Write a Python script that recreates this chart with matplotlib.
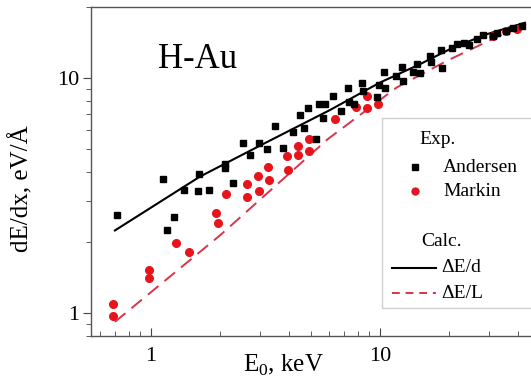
import numpy as np
import matplotlib
matplotlib.use("Agg")
import matplotlib.pyplot as plt
from matplotlib.lines import Line2D
from matplotlib.patches import Rectangle
from matplotlib.ticker import LogLocator, NullFormatter

plt.rcParams['font.family'] = ['Liberation Serif', 'DejaVu Serif']
plt.rcParams['mathtext.fontset'] = 'custom'
plt.rcParams['mathtext.rm'] = 'Liberation Serif'

# Andersen (exp.)
and_E = [0.710, 1.125, 1.178, 1.260, 1.398, 1.599, 1.620, 1.800, 2.104, 2.104,
         2.280, 2.530, 2.720, 2.971, 3.211, 3.479, 3.760, 4.170, 4.487, 4.681,
         4.834, 5.281, 5.443, 5.621, 5.752, 6.254, 6.737, 7.271, 7.344, 7.700,
         8.347, 8.457, 9.70, 9.93, 10.38, 10.51, 11.75, 12.44, 12.60, 14.00,
         14.46, 14.95, 16.62, 16.79, 18.47, 18.75, 20.56, 21.62, 23.27, 24.55,
         26.44, 28.25, 31.05, 32.33, 35.50, 38.20, 41.57]
and_S = [2.620, 3.707, 2.263, 2.559, 3.353, 3.305, 3.908, 3.353, 4.309, 4.156,
         3.591, 5.278, 4.718, 5.278, 4.988, 6.261, 5.027, 5.904, 6.968, 6.099,
         7.440, 5.500, 7.738, 6.737, 7.738, 8.389, 7.248, 9.096, 7.900, 7.738,
         9.552, 8.808, 8.311, 9.339, 10.62, 9.096, 10.20, 11.10, 9.712, 10.55,
         11.43, 10.53, 12.40, 11.71, 13.11, 11.06, 13.44, 13.89, 14.03, 13.80,
         14.59, 15.21, 15.07, 15.56, 15.82, 16.34, 16.61]

# Markin (exp.)
mar_E = [0.684, 0.684, 0.980, 0.980, 1.286, 1.470, 1.922, 1.967, 2.126, 2.617,
         2.617, 2.942, 2.971, 3.252, 3.276, 3.937, 3.966, 4.398, 4.398, 4.897,
         4.897, 6.362, 7.855, 8.80, 8.80, 9.77, 31.1, 35.7, 39.5]
mar_S = [1.099, 0.974, 1.532, 1.414, 1.980, 1.818, 2.661, 2.418, 3.209, 3.545,
         3.131, 3.843, 3.320, 4.169, 3.696, 4.650, 4.057, 5.117, 4.705, 5.488,
         4.872, 6.683, 7.484, 8.389, 7.463, 7.738, 15.07, 15.82, 16.09]

# calculations
d_E = [0.696, 1.637, 2.99, 6.05, 10.0, 14.95, 20.84, 29.24, 42.97]
d_S = [2.247, 3.806, 5.15, 7.30, 9.55, 11.43, 13.44, 15.32, 17.15]
L_E = [0.696, 2.001, 5.93, 11.83, 19.56, 40.87]
L_S = [0.919, 2.14, 5.50, 9.10, 11.80, 16.61]

red = '#e8141c'
dash_red = '#d8344a'

fig = plt.figure(figsize=(5.31, 3.86), dpi=100)
ax = fig.add_axes([0.1723, 0.1295, 0.8446, 0.8523])

ax.plot(d_E, d_S, color='black', lw=1.5, zorder=2)
ax.plot(L_E, L_S, color=dash_red, lw=1.4, dashes=(7, 4), zorder=2)
ax.plot(mar_E, mar_S, 'o', color=red, ms=5.5, ls='none', zorder=3)
ax.plot(and_E, and_S, 's', color='black', ms=5, ls='none', zorder=4)

ax.set_xscale('log')
ax.set_yscale('log')
ax.set_xlim(0.55, 50)
ax.set_ylim(0.8, 20)

ax.set_xticks([1, 10])
ax.set_xticklabels(['1', '10'])
ax.set_yticks([1, 10])
ax.set_yticklabels(['1', '10'])
ax.xaxis.set_minor_locator(LogLocator(subs=np.arange(2, 10)))
ax.yaxis.set_minor_locator(LogLocator(subs=np.arange(2, 10)))
ax.xaxis.set_minor_formatter(NullFormatter())
ax.yaxis.set_minor_formatter(NullFormatter())
ax.tick_params(axis='x', which='both', direction='in', labelsize=16, pad=8)
ax.tick_params(axis='y', which='both', direction='out', labelsize=16, pad=3)
ax.tick_params(which='major', length=6, color='#444444')
ax.tick_params(which='minor', length=3.5, color='#444444')
for s in ax.spines.values():
    s.set_color('#555555')
    s.set_linewidth(1.0)

ax.set_xlabel(r'E$_\mathregular{0}$, keV', fontsize=18)
ax.set_ylabel('dE/dx, eV/Å', fontsize=18)
ax.xaxis.set_label_coords(0.429, -0.052)
ax.yaxis.set_label_coords(-0.130, 0.448)

ax.text(0.148, 0.815, 'H-Au', transform=ax.transAxes, fontsize=25, va='baseline')

# legend box drawn by hand
W, H = 531, 386
fig.patches.append(Rectangle((382 / W, 1 - 308 / H), 150 / W, 190 / H,
                             transform=fig.transFigure, facecolor='white',
                             edgecolor='#d0d0d0', lw=1.0, zorder=5))
fs = 14
fig.text(438 / W, 1 - 140 / H, 'Exp.', fontsize=fs, ha='center', va='center', zorder=6)
fig.add_artist(Line2D([415 / W], [1 - 167 / H], marker='s', color='black', ms=4.5,
                      transform=fig.transFigure, zorder=6))
fig.text(443 / W, 1 - 167 / H, 'Andersen', fontsize=fs, va='center', zorder=6)
fig.add_artist(Line2D([415 / W], [1 - 191 / H], marker='o', color=red, ms=5,
                      transform=fig.transFigure, zorder=6))
fig.text(443 / W, 1 - 191 / H, 'Markin', fontsize=fs, va='center', zorder=6)
fig.text(442 / W, 1 - 242 / H, 'Calc.', fontsize=fs, ha='center', va='center', zorder=6)
fig.add_artist(Line2D([392 / W, 436 / W], [1 - 268 / H] * 2, color='black', lw=1.5,
                      transform=fig.transFigure, zorder=6))
fig.text(441 / W, 1 - 268 / H, 'ΔE/d', fontsize=fs, va='center', zorder=6)
fig.add_artist(Line2D([392 / W, 436 / W], [1 - 293 / H] * 2, color=dash_red, lw=1.4,
                      dashes=(4, 3), transform=fig.transFigure, zorder=6))
fig.text(441 / W, 1 - 293 / H, 'ΔE/L', fontsize=fs, va='center', zorder=6)

fig.savefig('out.png', dpi=100)
